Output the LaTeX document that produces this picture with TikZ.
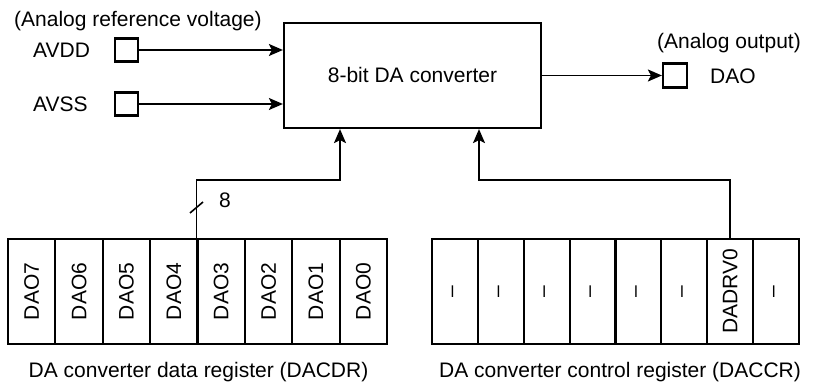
\documentclass[tikz,border=0pt]{standalone}
\usepackage{fontspec}
\setmainfont{Liberation Sans}
\usetikzlibrary{arrows.meta,calc}
\begin{document}
\begin{tikzpicture}[x=1pt,y=1pt,
  lbl/.style={font=\fontsize{21}{25}\selectfont, inner sep=0pt},
  pinbox/.style={draw, line width=2.2pt, minimum size=23pt, inner sep=0pt},
  conv/.style={draw, line width=2.2pt, minimum width=257pt, minimum height=105pt, inner sep=0pt, font=\fontsize{21}{25}\selectfont},
  wire/.style={line width=1.6pt},
  arr/.style={wire, -{Stealth[length=14pt,width=12pt,inset=3pt]}},
  cellA/.style={draw, line width=2.2pt, minimum width=47.375pt, minimum height=105pt, inner sep=0pt, font=\fontsize{21}{25}\selectfont},
  cellB/.style={draw, line width=2.2pt, minimum width=45.875pt, minimum height=105pt, inner sep=0pt, font=\fontsize{21}{25}\selectfont}
]
\useasboundingbox (0,0) rectangle (820,385);

% converter
\node[conv] (conv) at (412.5,309.5) {8-bit DA converter};

% inputs
\node[lbl, anchor=base west] (ref) at (14,358) {(Analog reference voltage)};
\node[lbl, anchor=west] (tvdd) at (33,335) {AVDD};
\node[lbl, anchor=west] (tvss) at (33,281) {AVSS};
\node[pinbox] (pv) at (126.5,335) {};
\node[pinbox] (ps) at (126.5,281) {};
\draw[arr] (pv.east) -- (pv.east -| conv.west);
\draw[arr] (ps.east) -- (ps.east -| conv.west);

% output
\node[lbl, anchor=base east] (aout) at (801,336) {(Analog output)};
\node[pinbox, minimum size=24pt] (po) at (675,309.5) {};
\node[lbl, anchor=west] (tdao) at (710,309) {DAO};
\draw[arr] (conv.east) -- (po.west);

% data register
\foreach \t [count=\i from 0] in {DAO7,DAO6,DAO5,DAO4,DAO3,DAO2,DAO1,DAO0}
  \node[cellA] (da\i) at ({8+47.375*(\i+0.5)},93.5) {\rotatebox{90}{\t}};
\node[lbl, anchor=base] (ldata) at (198.5,7) {DA converter data register (DACDR)};

% control register
\foreach \t [count=\i from 0] in {--,--,--,--,--,--,DADRV0,--}
  \node[cellB] (cb\i) at ({432+45.875*(\i+0.5)},93.5) {\rotatebox{90}{\t}};
\node[lbl, anchor=base] (lctrl) at (620,7) {DA converter control register (DACCR)};

% connections
\coordinate (j1) at (340,205);
\draw[arr] (da4.north west) |- (j1) -- (j1 |- conv.south);
\draw[wire] (190,172) -- (203,183);
\node[lbl] (bus8) at (225,185) {8};

\coordinate (j2) at (479,205);
\draw[arr] (cb6.north) |- (j2) -- (j2 |- conv.south);
\end{tikzpicture}
\end{document}
